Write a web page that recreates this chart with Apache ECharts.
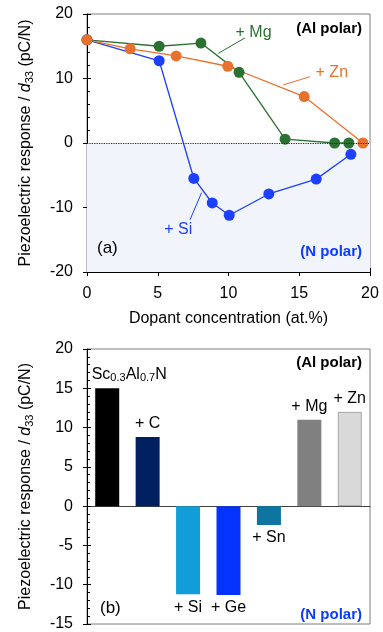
<!DOCTYPE html>
<html>
<head>
<meta charset="utf-8">
<script src="https://cdn.jsdelivr.net/npm/echarts@6/dist/echarts.min.js"></script>
<style>
  html, body { margin: 0; padding: 0; background: #fff; }
  #chart { width: 383px; height: 632px; }
</style>
</head>
<body>
<div id="chart"></div>
<script>
// (a) d33 vs dopant concentration
const znX = [0, 3.05, 6.3, 9.95, 15.35, 19.5];
const znY = [16, 14.6, 13.5, 11.9, 7.2, 0];
const mgX = [0, 5.1, 8.05, 10.75, 14.0, 17.5, 18.5];
const mgY = [16, 15.0, 15.5, 10.95, 0.6, 0, 0];
const siX = [0, 5.1, 7.55, 8.85, 10.05, 12.85, 16.2, 18.65];
const siY = [16, 12.75, -5.5, -9.3, -11.2, -7.9, -5.6, -1.75];

// (b) d33 per dopant
const dopants = ['Sc0.3Al0.7N', '+ C', '+ Si', '+ Ge', '+ Sn', '+ Mg', '+ Zn'];
const d33 = [15, 8.8, -11.2, -11.3, -2.4, 11, 12];
const barColors = ['#000000', '#002060', '#109DD8', '#0433FF', '#0E74A0', '#808080', '#D9D9D9'];

const FONT = '"Liberation Sans", Arial, sans-serif';
const BLUE = '#1D3FFF', GREEN = '#2B7131', ORANGE = '#E8712D';

const zip = (xs, ys) => xs.map((x, i) => [x, ys[i]]);

const yName = 'Piezoelectric response / {i|d}{sub|33} (pC/N)';
const yNameStyle = {
  fontSize: 16, fontFamily: FONT, color: '#000',
  rich: {
    i: { fontSize: 16, fontStyle: 'italic', fontFamily: FONT, color: '#000' },
    sub: { fontSize: 11, fontFamily: FONT, color: '#000', padding: [8, 0, 0, 0] }
  }
};
const labelStyle = { fontSize: 16, fontFamily: FONT, color: '#000' };

function mainAxis(grid, extra) {
  return Object.assign({
    gridIndex: grid,
    axisLine: { show: true, onZero: false, lineStyle: { color: '#000', width: 1 } },
    axisTick: { show: true, inside: false, length: 4, lineStyle: { color: '#000' } },
    axisLabel: Object.assign({ margin: 14 }, labelStyle),
    splitLine: { show: false }
  }, extra);
}
// second copy of an axis only for the inward ticks
function tickAxis(grid, extra) {
  return Object.assign({
    gridIndex: grid,
    axisLine: { show: false, onZero: false },
    axisTick: { show: true, inside: true, length: 4, lineStyle: { color: '#000' } },
    minorTick: { show: true, splitNumber: 5, length: 3, lineStyle: { color: '#000' } },
    axisLabel: { show: false },
    splitLine: { show: false }
  }, extra);
}

function lineSeries(name, data, color, note, leader) {
  return {
    name: name,
    type: 'line',
    xAxisIndex: 0, yAxisIndex: 0,
    data: data,
    symbol: 'circle', symbolSize: 11,
    itemStyle: { color: color },
    lineStyle: { color: color, width: 1.3 },
    markLine: {
      silent: true, symbol: ['none', 'none'], label: { show: false },
      lineStyle: { color: color, width: 1, type: 'solid' },
      data: [[{ coord: leader[0] }, { coord: leader[1] }]]
    },
    markPoint: {
      silent: true, symbol: 'circle', symbolSize: 0,
      label: { show: true, position: 'inside', formatter: name, fontSize: 16, fontFamily: FONT, color: color },
      data: [{ coord: note }]
    }
  };
}

const siSeries = lineSeries('+ Si', zip(siX, siY), BLUE, [6.45, -13.5], [[8.1, -7.7], [7.28, -11.9]]);
siSeries.markArea = {
  silent: true,
  itemStyle: { color: '#F1F4FA' },
  data: [[{ yAxis: 0 }, { yAxis: -20 }]]
};
siSeries.markLine.data.push({ yAxis: 0, lineStyle: { color: '#222', type: 'dotted', width: 1.2 } });

const option = {
  animation: false,
  backgroundColor: '#fff',
  textStyle: { fontFamily: FONT },
  grid: [
    { left: 87, right: 13, top: 14, height: 258, show: true, borderColor: '#7F7F7F', borderWidth: 1, backgroundColor: 'transparent' },
    { left: 87, right: 13, top: 349, height: 280, show: true, borderColor: '#7F7F7F', borderWidth: 1, backgroundColor: 'transparent' }
  ],
  xAxis: [
    mainAxis(0, {
      type: 'value', min: 0, max: 20, interval: 5, position: 'bottom',
      name: 'Dopant concentration (at.%)', nameLocation: 'middle', nameGap: 39,
      nameTextStyle: { fontSize: 16, fontFamily: FONT, color: '#000' }
    }),
    tickAxis(0, { type: 'value', min: 0, max: 20, interval: 5, position: 'bottom' }),
    {
      gridIndex: 1, type: 'category', data: dopants,
      axisLine: { show: true, onZero: true, lineStyle: { color: '#404040', width: 1 } },
      axisTick: { show: false }, axisLabel: { show: false }, splitLine: { show: false }
    }
  ],
  yAxis: [
    mainAxis(0, {
      type: 'value', min: -20, max: 20, interval: 10, position: 'left',
      name: yName, nameLocation: 'middle', nameRotate: 90, nameGap: 52, nameTextStyle: yNameStyle
    }),
    tickAxis(0, { type: 'value', min: -20, max: 20, interval: 10, position: 'left' }),
    mainAxis(1, {
      type: 'value', min: -15, max: 20, interval: 5, position: 'left',
      name: yName, nameLocation: 'middle', nameRotate: 90, nameGap: 52, nameTextStyle: yNameStyle
    }),
    tickAxis(1, { type: 'value', min: -15, max: 20, interval: 5, position: 'left' })
  ],
  series: [
    siSeries,
    lineSeries('+ Mg', zip(mgX, mgY), GREEN, [11.77, 17.05], [[9.28, 13.9], [11.17, 16.3]]),
    lineSeries('+ Zn', zip(znX, znY), ORANGE, [17.3, 10.85], [[13.87, 9.0], [15.76, 10.28]]),
    {
      type: 'bar',
      xAxisIndex: 2, yAxisIndex: 2,
      barWidth: 24,
      data: d33.map((v, i) => ({
        value: v,
        itemStyle: {
          color: barColors[i],
          borderColor: i === 6 ? '#A6A6A6' : barColors[i],
          borderWidth: i === 6 ? 1 : 0
        },
        label: {
          show: true,
          position: v >= 0 ? 'top' : 'bottom',
          distance: 5,
          offset: i === 0 ? [22, 0] : [0, 0]
        }
      })),
      label: {
        fontSize: 16, fontFamily: FONT, color: '#000',
        formatter: p => p.dataIndex === 0 ? 'Sc{s|0.3}Al{s|0.7}N' : p.name,
        rich: { s: { fontSize: 11, fontFamily: FONT, color: '#000', padding: [7, 0, 0, 0] } }
      }
    }
  ],
  graphic: [
    { type: 'text', z: 100, right: 21, top: 21, style: { text: '(Al polar)', font: 'bold 15px ' + FONT, fill: '#000' } },
    { type: 'text', z: 100, right: 21, top: 244, style: { text: '(N polar)', font: 'bold 15px ' + FONT, fill: '#0A3CFF' } },
    { type: 'text', z: 100, left: 97, top: 240, style: { text: '(a)', font: '17px ' + FONT, fill: '#000' } },
    { type: 'text', z: 100, right: 21, top: 355, style: { text: '(Al polar)', font: 'bold 15px ' + FONT, fill: '#000' } },
    { type: 'text', z: 100, right: 21, top: 607, style: { text: '(N polar)', font: 'bold 15px ' + FONT, fill: '#0A3CFF' } },
    { type: 'text', z: 100, left: 100, top: 600, style: { text: '(b)', font: '17px ' + FONT, fill: '#000' } }
  ]
};

const chart = echarts.init(document.getElementById('chart'));
chart.setOption(option);
window.addEventListener('resize', () => {
  chart.resize();
});
</script>
</body>
</html>
